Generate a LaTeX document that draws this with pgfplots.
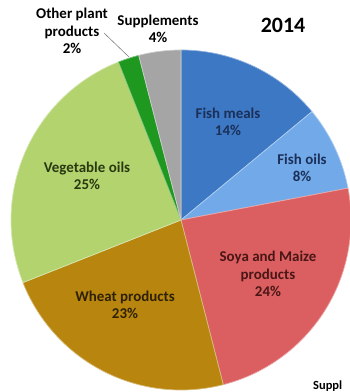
\documentclass[border=0pt]{standalone}
\usepackage{pgfplots}
\pgfplotsset{compat=1.18}
\usepackage{fontspec}
\setmainfont{Carlito}
\definecolor{cFM}{HTML}{3D78C4}
\definecolor{cFO}{HTML}{72A9E8}
\definecolor{cSM}{HTML}{DB5F60}
\definecolor{cWP}{HTML}{B8860F}
\definecolor{cVO}{HTML}{B3D36F}
\definecolor{cOP}{HTML}{1E981E}
\definecolor{cSU}{HTML}{A5A5A5}
\definecolor{tFM}{HTML}{1B3058}
\definecolor{tSM}{HTML}{4A1616}
\definecolor{tWP}{HTML}{2E2105}
\definecolor{tVO}{HTML}{28380F}
% shares in percent, clockwise from 12 o'clock
\def\pFM{14}\def\pFO{8}\def\pSM{24}\def\pWP{23}\def\pVO{25}\def\pOP{2}\def\pSU{4}
\pgfmathsetmacro\aA{90}
\pgfmathsetmacro\aB{\aA-3.6*\pFM}
\pgfmathsetmacro\aC{\aB-3.6*\pFO}
\pgfmathsetmacro\aD{\aC-3.6*\pSM}
\pgfmathsetmacro\aE{\aD-3.6*\pWP}
\pgfmathsetmacro\aF{\aE-3.6*\pVO}
\pgfmathsetmacro\aG{\aF-3.6*\pOP}
\pgfmathsetmacro\aH{\aG-3.6*\pSU}
\def\cx{181}\def\cy{172}\def\R{170}
\begin{document}
\begin{tikzpicture}
\begin{axis}[width=350bp,height=392bp,scale only axis,hide axis,
  xmin=0,xmax=350,ymin=0,ymax=392,clip=false,
  every axis plot/.append style={samples=80,variable=\t,line width=0.7pt}]
\addplot[fill=cFM,draw=cFM!55!white,domain=\aB:\aA] ({\cx+\R*cos(t)},{\cy+\R*sin(t)}) -- (\cx,\cy) -- cycle;
\addplot[fill=cFO,draw=cFO!55!white,domain=\aC:\aB] ({\cx+\R*cos(t)},{\cy+\R*sin(t)}) -- (\cx,\cy) -- cycle;
\addplot[fill=cSM,draw=cSM!55!white,domain=\aD:\aC] ({\cx+\R*cos(t)},{\cy+\R*sin(t)}) -- (\cx,\cy) -- cycle;
\addplot[fill=cWP,draw=cWP!55!white,domain=\aE:\aD] ({\cx+\R*cos(t)},{\cy+\R*sin(t)}) -- (\cx,\cy) -- cycle;
\addplot[fill=cVO,draw=cVO!55!white,domain=\aF:\aE] ({\cx+\R*cos(t)},{\cy+\R*sin(t)}) -- (\cx,\cy) -- cycle;
\addplot[fill=cOP,draw=cOP!55!white,domain=\aG:\aF,samples=10] ({\cx+\R*cos(t)},{\cy+\R*sin(t)}) -- (\cx,\cy) -- cycle;
\addplot[fill=cSU,draw=cSU!55!white,domain=\aH:\aG,samples=15] ({\cx+\R*cos(t)},{\cy+\R*sin(t)}) -- (\cx,\cy) -- cycle;
% leader line
\draw[gray,line width=0.6pt] (104,359) -- (129,335);
\begin{scope}[every node/.style={font=\bfseries\fontsize{15}{17.5}\selectfont,align=center,inner sep=0pt}]
\node[text=tFM] at (228,270) {Fish meals\\14\%};
\node[text=tFM] at (302,224) {Fish oils\\8\%};
\node[text=tSM] at (268,118) {Soya and Maize\\products\\24\%};
\node[text=tWP] at (125,87) {Wheat products\\23\%};
\node[text=tVO] at (87,216) {Vegetable oils\\25\%};
\node[text=black] at (72,361) {Other plant\\products\\2\%};
\node[text=black] at (158,363) {Supplements\\4\%};
\end{scope}
\node[font=\bfseries\fontsize{22}{26}\selectfont,inner sep=0pt] at (283,367) {2014};
\node[font=\bfseries\fontsize{12.5}{14}\selectfont,inner sep=0pt,anchor=base west] at (313,3) {Suppl};
\end{axis}
\pgfresetboundingbox
\useasboundingbox (0,0) rectangle (350bp,392bp);
\end{tikzpicture}
\end{document}
